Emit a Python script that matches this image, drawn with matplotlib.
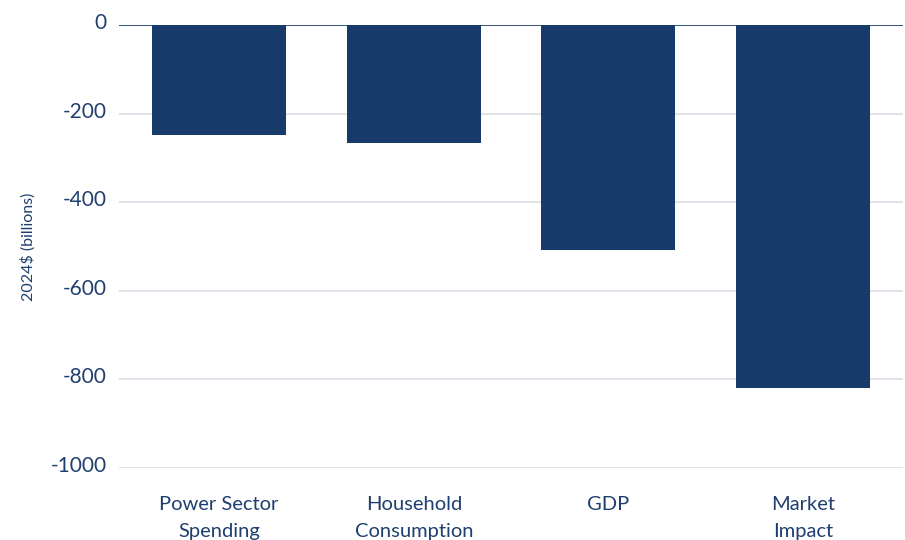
import matplotlib.pyplot as plt
import matplotlib.transforms as mtransforms

categories = ['Power Sector\nSpending', 'Household\nConsumption', 'GDP', 'Market\nImpact']
values = [-248, -267, -508, -819]
yticks = [0, -200, -400, -600, -800, -1000]

navy = '#163b6a'
text_color = '#1f3f6e'

plt.rcParams['font.family'] = ['Lato', 'DejaVu Sans']

fig = plt.figure(figsize=(9.05, 5.4), dpi=100)
ax = fig.add_axes([0.1315, 0.1333, 0.8663, 0.8204])

x = range(len(categories))
ax.bar(x, values, width=0.688, color=navy, zorder=3)

ax.set_xlim(-0.514, 3.513)
ax.set_ylim(-1000, 0)
ax.set_yticks(yticks)
ax.set_yticklabels([str(t) for t in yticks], fontsize=15, color=text_color)
ax.set_xticks(list(x))
ax.set_xticklabels(categories, fontsize=14.5, color=text_color, linespacing=1.75)

ax.grid(axis='y', color='#dcdce6', linewidth=1.2, zorder=0)
ax.axhline(0, color=navy, linewidth=1.2, zorder=4)
for s in ['top', 'right', 'left', 'bottom']:
    ax.spines[s].set_visible(False)
ax.tick_params(axis='both', length=0)
ax.tick_params(axis='y', pad=9)
ax.tick_params(axis='x', pad=20)

# labels sit a little above their gridlines (after tick_params, which resets transforms)
shift = mtransforms.ScaledTranslation(0, 4 / 100, fig.dpi_scale_trans)
for lbl in ax.get_yticklabels():
    lbl.set_transform(lbl.get_transform() + shift)

fig.text(0.031, 0.543, '2024$ (billions)', rotation=90, va='center', ha='center',
         fontsize=11.5, color=text_color)

fig.savefig('out.png', dpi=100)
